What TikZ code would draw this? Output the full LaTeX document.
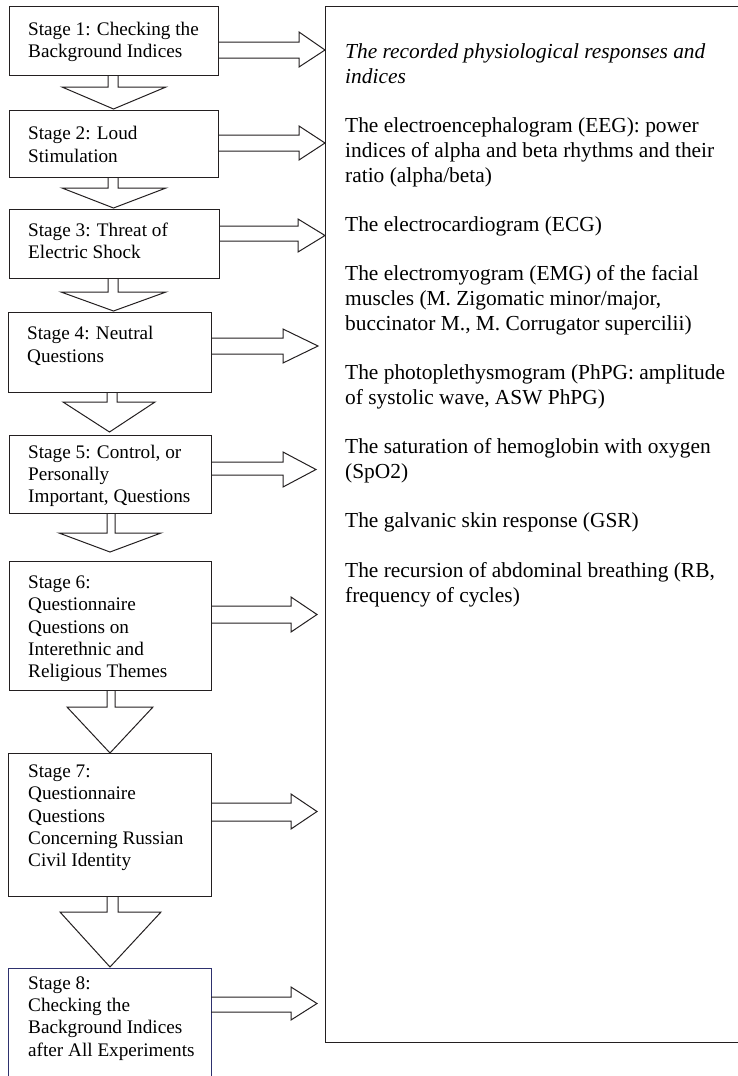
\documentclass[tikz,border=0pt]{standalone}
\usepackage{fontspec}
\setmainfont{Liberation Serif}
\definecolor{ln}{RGB}{35,31,32}
\definecolor{navy}{RGB}{46,49,110}
\begin{document}
\begin{tikzpicture}[x=1pt,y=-1pt,line join=miter,
  box/.style={draw=ln,line width=1pt,rectangle,anchor=north west,inner sep=0pt},
  blk/.style={draw=ln,line width=1pt},
  lt/.style={anchor=north west,inner sep=0pt,align=left,font=\fontsize{19.2}{22.3}\selectfont},
  rt/.style={anchor=north west,inner sep=0pt,align=left,font=\fontsize{21.4}{24.7}\selectfont}]
\useasboundingbox (0,0) rectangle (738,1076);
% stage boxes
\node[box,minimum width=209pt,minimum height=69pt]  (s1) at (9,6) {};
\node[box,minimum width=209pt,minimum height=67pt]  (s2) at (9,110) {};
\node[box,minimum width=210pt,minimum height=69pt]  (s3) at (9,209) {};
\node[box,minimum width=203pt,minimum height=80pt]  (s4) at (8,312) {};
\node[box,minimum width=202pt,minimum height=78pt]  (s5) at (9,435) {};
\node[box,minimum width=202pt,minimum height=129pt] (s6) at (9,561) {};
\node[box,minimum width=203pt,minimum height=143pt] (s7) at (8,753) {};
\node[box,draw=navy,minimum width=203pt,minimum height=130pt] (s8) at (8,968) {};
% right box
\node[box,minimum width=440pt,minimum height=1036pt] (rb) at (325,6) {};
% stage texts
\node[lt] (t1) at (28,21.6) {Stage 1: Checking the\\Background Indices};
\node[lt] (t2) at (28,126.3) {Stage 2: Loud\\Stimulation};
\node[lt] (t3) at (28,222.3) {Stage 3: Threat of\\Electric Shock};
\node[lt] (t4) at (27,326.3) {Stage 4: Neutral\\Questions};
\node[lt] (t5) at (28,444.6) {Stage 5: Control, or\\Personally\\Important, Questions};
\node[lt] (t6) at (28,575.6) {Stage 6:\\Questionnaire\\Questions on\\Interethnic and\\Religious Themes};
\node[lt] (t7) at (28,764.6) {Stage 7:\\Questionnaire\\Questions\\Concerning Russian\\Civil Identity};
\node[lt] (t8) at (28,976.3) {Stage 8:\\Checking the\\Background Indices\\after All Experiments};
% right text
\node[rt] (rt) at (345,43.6) {\textit{The recorded physiological responses and}\\\textit{indices}\\[24.7pt]
The electroencephalogram (EEG): power\\indices of alpha and beta rhythms and their\\ratio (alpha/beta)\\[24.7pt]
The electrocardiogram (ECG)\\[24.7pt]
The electromyogram (EMG) of the facial\\muscles (M. Zigomatic minor/major,\\buccinator M., M. Corrugator supercilii)\\[24.7pt]
The photoplethysmogram (PhPG: amplitude\\of systolic wave, ASW PhPG)\\[24.7pt]
The saturation of hemoglobin with oxygen\\(SpO2)\\[24.7pt]
The galvanic skin response (GSR)\\[24.7pt]
The recursion of abdominal breathing (RB,\\frequency of cycles)};
% down block arrows
\draw[blk] (108,75) -- (108,87) -- (62,87) -- (113.5,109) -- (166,87) -- (118,87) -- (118,75);
\draw[blk] (108,177) -- (108,188) -- (62,188) -- (113.5,208) -- (166,188) -- (118,188) -- (118,177);
\draw[blk] (108,278) -- (108,292) -- (61,292) -- (113.5,311) -- (166,292) -- (118,292) -- (118,278);
\draw[blk] (107,392) -- (107,402) -- (63,402) -- (109.5,432) -- (155,402) -- (117,402) -- (117,392);
\draw[blk] (107,513) -- (107,533) -- (59,533) -- (110,552) -- (161,533) -- (115,533) -- (115,513);
\draw[blk] (107,690) -- (107,707) -- (67,707) -- (110,753) -- (153,707) -- (115,707) -- (115,690);
\draw[blk] (107,896) -- (107,912) -- (60,912) -- (110,967) -- (161,912) -- (118,912) -- (118,896);
% right block arrows
\draw[blk] (218,42) -- (299,42) -- (299,32) -- (325,50) -- (299,67) -- (299,58) -- (218,58);
\draw[blk] (218,135) -- (299,135) -- (299,126) -- (325,143) -- (299,160) -- (299,151) -- (218,151);
\draw[blk] (219,226) -- (298,226) -- (298,219) -- (325,235.5) -- (298,252) -- (298,241) -- (219,241);
\draw[blk] (211,338) -- (283,338) -- (283,329) -- (318,346) -- (283,363) -- (283,354) -- (211,354);
\draw[blk] (211,462) -- (283,462) -- (283,452) -- (316,469.5) -- (283,487) -- (283,475) -- (211,475);
\draw[blk] (211,606) -- (291,606) -- (291,597) -- (317,614.5) -- (291,632) -- (291,623) -- (211,623);
\draw[blk] (211,803) -- (291,803) -- (291,794) -- (317,811.5) -- (291,829) -- (291,821) -- (211,821);
\draw[blk] (211,997) -- (291,997) -- (291,987) -- (317,1003.5) -- (291,1020) -- (291,1012) -- (211,1012);
\end{tikzpicture}
\end{document}
